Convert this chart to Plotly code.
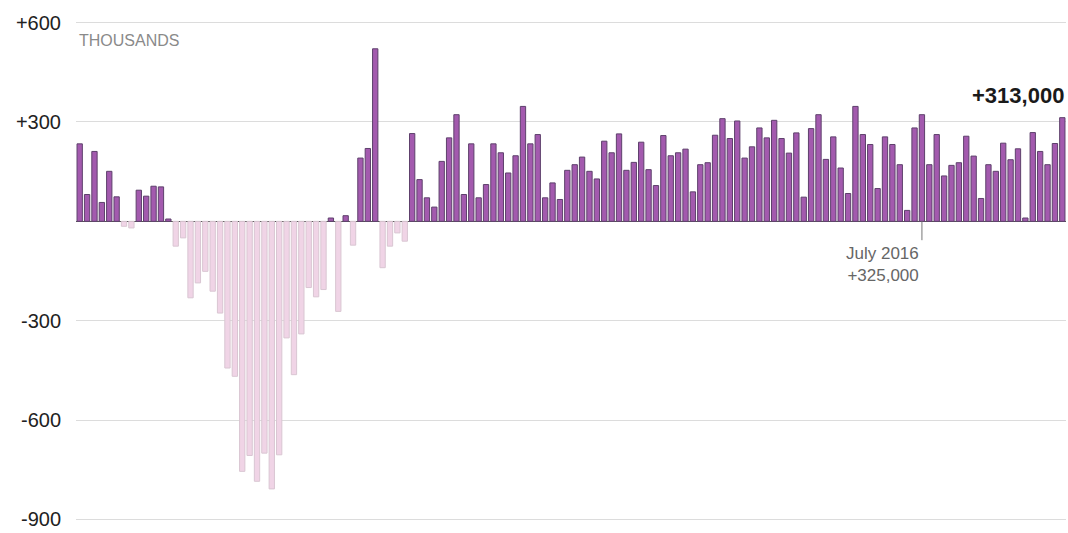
import plotly.graph_objects as go

years = list(range(2007, 2019))
month_names = ["Jan", "Feb", "Mar", "Apr", "May", "Jun", "Jul", "Aug", "Sep", "Oct", "Nov", "Dec"]
months = [f"{m} {y}" for y in years for m in month_names][:134]  # Jan 2007 .. Feb 2018

# Monthly change in payrolls, thousands
jobs_2007 = [234, 81, 211, 57, 151, 74, -15, -20, 94, 76, 106, 104]
jobs_2008 = [7, -75, -50, -231, -186, -151, -211, -277, -443, -468, -755, -707]
jobs_2009 = [-785, -700, -808, -705, -352, -463, -340, -200, -228, -206, 10, -272]
jobs_2010 = [17, -72, 191, 220, 521, -140, -75, -35, -60, 265, 126, 71]
jobs_2011 = [43, 181, 252, 322, 81, 234, 71, 111, 234, 207, 146, 198]
jobs_2012 = [347, 234, 262, 71, 116, 66, 154, 171, 194, 151, 128, 242]
jobs_2013 = [207, 264, 154, 178, 239, 156, 108, 259, 198, 207, 218, 89]
jobs_2014 = [171, 177, 260, 310, 250, 303, 191, 225, 282, 252, 305, 250]
jobs_2015 = [206, 267, 73, 280, 322, 187, 255, 161, 84, 347, 262, 232]
jobs_2016 = [99, 255, 232, 171, 33, 282, 322, 171, 262, 137, 169, 177]
jobs_2017 = [257, 197, 69, 171, 151, 236, 186, 219, 10, 268, 211, 171]
jobs_2018 = [235, 313]

values = (jobs_2007 + jobs_2008 + jobs_2009 + jobs_2010 + jobs_2011 + jobs_2012
          + jobs_2013 + jobs_2014 + jobs_2015 + jobs_2016 + jobs_2017 + jobs_2018)

tick_vals = [-900, -600, -300, 300, 600]
tick_text = ["-900", "-600", "-300", "+300", "+600"]

POS_FILL = "#a35aae"
POS_LINE = "#5e406c"
NEG_FILL = "#f0d4e6"
NEG_LINE = "#d9c6d2"

fills = [POS_FILL if v >= 0 else NEG_FILL for v in values]
lines = [POS_LINE if v >= 0 else NEG_LINE for v in values]

fig = go.Figure(go.Bar(
    x=months, y=values,
    marker=dict(color=fills, line=dict(color=lines, width=1)),
    hoverinfo="x+y",
))

fig.update_layout(
    width=1068, height=533,
    margin=dict(l=76, r=2, t=16, b=7),
    plot_bgcolor="white", paper_bgcolor="white",
    showlegend=False, bargap=0.28,
    font=dict(family="Liberation Sans, Arial, sans-serif", color="#222"),
)
fig.update_xaxes(type="category", showticklabels=False, showgrid=False,
                 zeroline=False, showline=False, ticks="")
fig.update_yaxes(range=[-920, 620], tickvals=tick_vals, ticktext=tick_text,
                 showgrid=True, gridcolor="#dcdcdc", gridwidth=1,
                 zeroline=True, zerolinecolor="#555", zerolinewidth=1,
                 tickfont=dict(size=20, color="#222"), ticks="",
                 ticklabelstandoff=14)

fig.add_annotation(xref="paper", x=0, y=547, text="THOUSANDS", showarrow=False,
                   xanchor="left", yanchor="middle", xshift=1,
                   font=dict(size=16, color="#8a8a8a"))

fig.add_annotation(xref="paper", x=1, y=381, text="<b>+313,000</b>", showarrow=False,
                   xanchor="right", yanchor="middle",
                   font=dict(size=22, color="#1a1a1a"))

fig.add_shape(type="line", x0="Jul 2016", x1="Jul 2016", y0=0, y1=-57,
              line=dict(color="#777", width=1))
fig.add_annotation(x="Jul 2016", y=-62, text="July 2016<br>+325,000", showarrow=False,
                   xanchor="right", yanchor="top", align="right", xshift=-1,
                   font=dict(size=17, color="#666"))

fig.write_html("out.html", config={"displayModeBar": False},
               post_script="document.body.style.margin='0';document.body.style.padding='0';")
